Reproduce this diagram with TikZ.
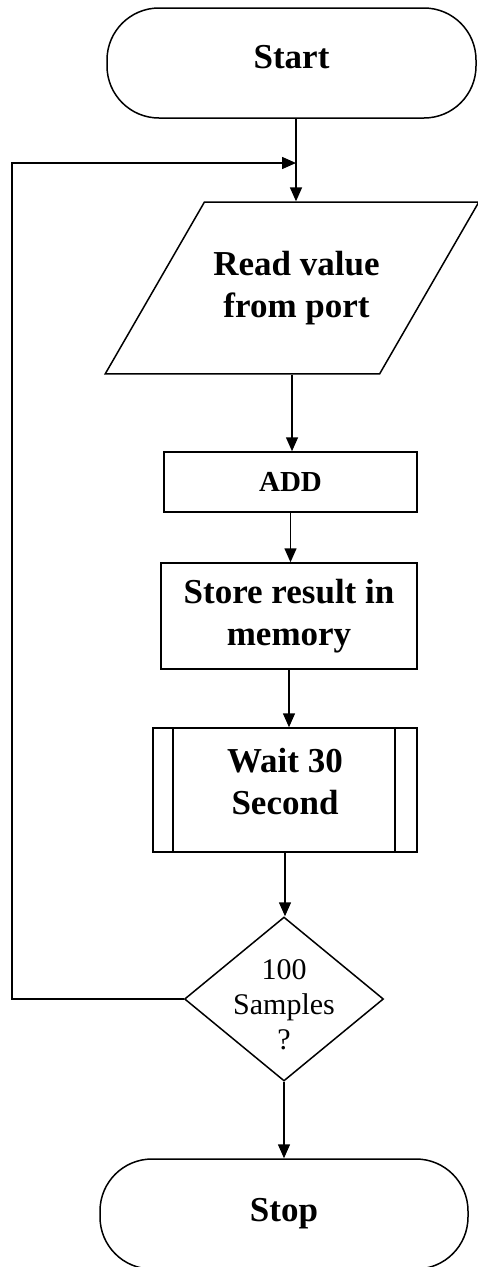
\documentclass[tikz,border=0pt]{standalone}
\usepackage{fontspec}
\setmainfont{Liberation Serif}
\usepackage{tikz}
\usetikzlibrary{arrows.meta,calc,positioning,shapes.geometric}

\begin{document}
\begin{tikzpicture}[x=1pt,y=-1pt,
line width=1.5pt,
flow/.style={-{Triangle[width=12pt,length=14pt]}},
bigtext/.style={font=\fontsize{35}{42}\selectfont\bfseries, align=center},
terminal/.style={draw, rectangle, rounded corners=52pt, minimum width=369pt, minimum height=110pt, bigtext},
io/.style={draw, trapezium, trapezium left angle=60, trapezium right angle=120, trapezium stretches body=true, inner ysep=49pt, inner xsep=0pt, minimum width=370pt, bigtext},
process/.style={draw, rectangle, bigtext},
subproc/.style={draw, rectangle, bigtext, minimum width=264pt, minimum height=124pt,
  path picture={\draw ([xshift=20pt]path picture bounding box.north west) -- ([xshift=20pt]path picture bounding box.south west);
  \draw ([xshift=-22pt]path picture bounding box.north east) -- ([xshift=-22pt]path picture bounding box.south east);}},
decision/.style={draw, diamond, inner sep=0pt, minimum width=199pt, minimum height=164pt},
smalltext/.style={font=\fontsize{30}{35}\selectfont, align=center}
]
\useasboundingbox (0,0) rectangle (477,1267);

\node[terminal] (start) at (291.5,63) {Start\\[-30pt]};
\node[io] (read) at (292,288) {\hspace*{9pt}Read value\\\hspace*{9pt}from port};
\node[process, font=\fontsize{29}{35}\selectfont\bfseries, minimum width=253pt, minimum height=60pt] (add) at (290.5,482) {ADD};
\node[process, minimum width=256pt, minimum height=106pt] (store) at (289,616) {Store result in\\memory};
\node[subproc] (wait) at (285,790) {Wait 30\\Second\\[-24pt]};
\node[decision, label={[smalltext, yshift=-6pt]center:100\\Samples\\?}] (check) at (284,999) {};
\node[terminal, minimum width=368pt] (stop) at (284,1214) {Stop};

\coordinate (join) at (296,163);
\coordinate (back) at (12,163);

\draw[flow] (start.south -| join) -- (read.north -| join);
\draw[flow] (check.west) -| (back) -- (join);
\draw[flow] (read.south) -- (read.south |- add.north);
\draw[flow] (add.south) -- (add.south |- store.north);
\draw[flow] (store.south) -- (store.south |- wait.north);
\draw[flow] (wait.south) -- (wait.south |- check.north);
\draw[flow] (check.south) -- (check.south |- stop.north);
\end{tikzpicture}
\end{document}
